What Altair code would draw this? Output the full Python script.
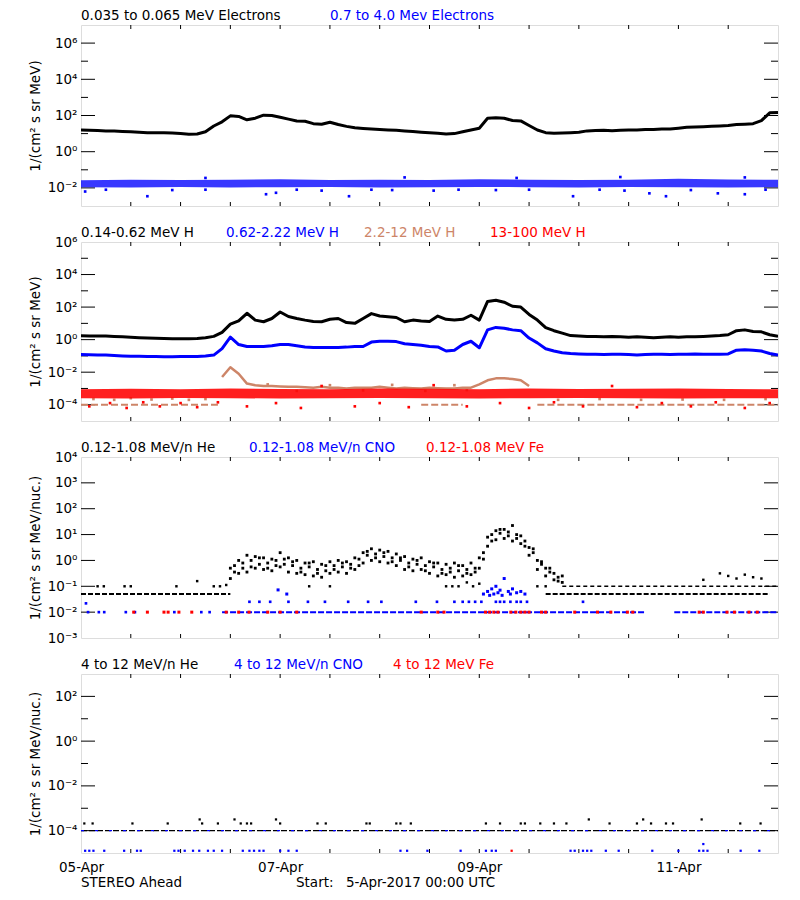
import altair as alt
import pandas as pd

W = 697
HS = [181, 179, 181, 179]
FONT = "DejaVu Sans"
FS = 13.5
BLACK, BLUE, BROWN, RED = "#000000", "#0000FF", "#CD8568", "#FF0000"

H2 = list(range(0, 169, 2))
H12 = list(range(0, 169, 12))
XTICK_H = list(range(12, 168, 12))
X_LABEL_H = [0, 48, 96, 144]
X_LABELS = ["05-Apr", "07-Apr", "09-Apr", "11-Apr"]

# ---------------- Panel 1 : electrons (log10 values) ----------------
e_low_black = [1.20, 1.18, 1.17, 1.15, 1.15, 1.12, 1.10, 1.08, 1.05, 1.05,
               1.05, 1.03, 1.00, 0.97, 0.98, 1.10, 1.42, 1.65, 1.98, 1.95,
               1.76, 1.85, 2.02, 2.00, 1.90, 1.80, 1.70, 1.68, 1.55, 1.52,
               1.63, 1.50, 1.40, 1.32, 1.28, 1.25, 1.22, 1.20, 1.18, 1.15,
               1.12, 1.08, 1.05, 1.02, 0.98, 1.00, 1.10, 1.20, 1.30, 1.85,
               1.88, 1.85, 1.72, 1.70, 1.45, 1.20, 1.05, 1.02, 1.03, 1.05,
               1.08, 1.15, 1.17, 1.18, 1.16, 1.18, 1.20, 1.20, 1.22, 1.22,
               1.25, 1.25, 1.30, 1.35, 1.37, 1.38, 1.40, 1.42, 1.45, 1.50,
               1.52, 1.55, 1.72, 2.15, 2.17]
e_high_blue_top = [-1.58, -1.55, -1.57, -1.55, -1.52, -1.56, -1.55, -1.57,
                   -1.52, -1.55, -1.56, -1.55, -1.50, -1.53, -1.55]
e_high_blue_bot = [-1.96, -1.98, -1.95, -1.98, -1.96, -1.95, -1.98, -1.96,
                   -1.95, -1.96, -1.98, -1.95, -1.96, -1.98, -1.96]
e_blue_out_t = [1, 6, 16, 22, 30, 44.6, 47, 52, 58, 64.6, 70, 75, 85, 91, 100,
                108, 118.6, 125, 131, 137, 141, 147, 153.5, 160, 165]
e_blue_out_v = [-2.2, -2.1, -2.46, -2.12, -2.1, -2.35, -2.27, -2.1, -2.15, -2.46,
                -2.1, -2.12, -2.15, -2.1, -2.12, -2.1, -2.46, -2.1, -2.15, -2.3,
                -2.46, -2.12, -2.3, -2.35, -2.1]
e_blue_up_t = [30, 78, 105, 130, 160]
e_blue_up_v = [-1.45, -1.42, -1.45, -1.40, -1.42]

# ---------------- Panel 2 : protons ----------------
h_low_black = [0.24, 0.23, 0.22, 0.22, 0.20, 0.18, 0.15, 0.12, 0.10, 0.08,
               0.07, 0.06, 0.06, 0.05, 0.07, 0.12, 0.20, 0.45, 0.95, 1.15,
               1.62, 1.20, 1.10, 1.30, 1.70, 1.42, 1.30, 1.20, 1.12, 1.10,
               1.25, 1.30, 1.05, 1.00, 1.30, 1.60, 1.45, 1.40, 1.36, 1.10,
               1.20, 1.15, 1.12, 1.45, 1.25, 1.20, 1.25, 1.50, 1.20, 2.35,
               2.42, 2.30, 2.05, 2.00, 1.55, 1.20, 0.74, 0.55, 0.40, 0.25,
               0.22, 0.20, 0.20, 0.18, 0.20, 0.18, 0.15, 0.17, 0.15, 0.12,
               0.15, 0.17, 0.15, 0.17, 0.18, 0.20, 0.22, 0.25, 0.30, 0.55,
               0.60, 0.50, 0.48, 0.30, 0.20]
h_mid_blue = [-0.92, -0.93, -0.95, -0.95, -0.98, -1.00, -1.02, -1.02, -1.03, -1.03,
              -1.05, -1.05, -1.04, -1.03, -1.03, -1.00, -0.95, -0.55, 0.15, -0.30,
              -0.42, -0.42, -0.42, -0.38, -0.30, -0.30, -0.38, -0.45, -0.48, -0.48,
              -0.48, -0.48, -0.46, -0.42, -0.42, -0.15, -0.10, -0.10, -0.12, -0.25,
              -0.30, -0.35, -0.42, -0.45, -0.70, -0.65, -0.30, -0.10, -0.50, 0.60,
              0.75, 0.70, 0.60, 0.55, 0.10, -0.20, -0.56, -0.70, -0.80, -0.85,
              -0.88, -0.90, -0.90, -0.92, -0.90, -0.90, -0.92, -0.95, -0.92, -0.90,
              -0.90, -0.92, -0.90, -0.90, -0.88, -0.90, -0.90, -0.90, -0.88, -0.65,
              -0.62, -0.65, -0.70, -0.85, -0.95]
h_brown_t = list(range(34, 109, 2))
h_brown_v = [-2.3, -1.7, -2.1, -2.7, -2.8, -2.85, -2.85, -2.88, -2.9, -2.9,
             -2.92, -2.95, -2.9, -2.95, -2.95, -3.0, -2.95, -2.95, -2.95, -2.9,
             -2.95, -3.0, -2.95, -2.98, -3.0, -2.95, -2.98, -3.0, -3.0, -2.95,
             -2.95, -2.75, -2.5, -2.38, -2.38, -2.42, -2.5, -2.85]
h_brown_base_start = [0, 82, 110]
h_brown_base_end = [33, 92, 168]
h_brown_base_level = -4.0
h_brown_sc_t = [3, 8, 12, 17, 22, 26, 30, 45, 52, 60, 68, 75, 83, 90, 93,
                115, 125, 135, 145, 155, 165]
h_brown_sc_v = [-3.65, -3.7, -3.6, -3.68, -3.62, -3.7, -3.65, -2.75, -3.15, -2.8,
                -3.12, -2.78, -3.15, -2.8, -3.1, -3.7, -3.65, -3.7, -3.68, -3.7, -3.65]
h_red_top = [-3.05, -3.02, -3.05, -3.00, -3.03, -3.05, -3.00, -3.02,
             -3.05, -3.00, -3.03, -3.02, -3.00, -3.03, -3.05]
h_red_bot = [-3.60, -3.62, -3.58, -3.60, -3.62, -3.60, -3.58, -3.60,
             -3.62, -3.60, -3.58, -3.60, -3.62, -3.60, -3.60]
h_red_out_t = [2, 7, 11, 15, 19, 24, 28, 33, 40, 47, 53, 58, 66, 72, 79, 85, 93,
               101, 108, 114, 121, 128, 134, 140, 147, 153, 160, 166]
h_red_out_v = [-4.1, -3.9, -4.2, -3.85, -4.1, -3.9, -4.15, -3.85, -4.1, -3.9,
               -4.2, -2.85, -4.1, -3.9, -4.15, -2.8, -4.1, -3.9, -4.2, -3.85,
               -4.1, -2.85, -4.15, -3.9, -4.1, -3.85, -4.2, -3.9]

# ---------------- Panel 3 : 0.12-1.08 MeV/n ions ----------------
he_t_even = list(range(36, 117, 2))
he_hi = [-0.3, 0.0, 0.2, 0.15, 0.1, 0.05, 0.3, 0.1, 0.0, -0.1,
         -0.05, -0.15, -0.05, 0.0, -0.05, 0.1, 0.3, 0.45, 0.4, 0.35,
         0.25, 0.15, 0.05, 0.1, -0.05, -0.1, -0.15, -0.1, -0.2, -0.1,
         0.1, 0.9, 1.15, 1.2, 1.35, 0.95, 0.5, 0.0, -0.3, -0.5, -0.6]
he_lo = [-0.7, -0.5, -0.45, -0.3, -0.35, -0.4, -0.25, -0.45, -0.5, -0.55,
         -0.6, -0.65, -0.5, -0.45, -0.5, -0.35, -0.1, 0.0, -0.05, -0.1,
         -0.2, -0.35, -0.4, -0.35, -0.5, -0.6, -0.55, -0.65, -0.6, -0.55,
         -0.3, 0.55, 0.8, 0.85, 0.75, 0.65, 0.2, -0.35, -0.6, -0.75, -0.85]
he_t_odd = list(range(37, 116, 2))
he_mid = [-0.2, -0.1, 0.0, -0.15, -0.1, -0.2, 0.05, -0.2, -0.3, -0.25,
          -0.35, -0.4, -0.2, -0.25, -0.15, 0.05, 0.2, 0.25, 0.15, 0.1,
          0.0, -0.1, -0.15, -0.2, -0.25, -0.35, -0.3, -0.4, -0.35, -0.3,
          0.3, 1.0, 1.05, 1.1, 0.85, 0.75, 0.3, -0.15, -0.45, -0.65]
he_mid2 = [-0.45, -0.3, -0.25, 0.1, -0.3, 0.0, -0.15, -0.05, -0.45, -0.1,
           -0.5, -0.2, -0.35, -0.1, -0.3, -0.2, 0.35, 0.1, 0.3, -0.05,
           0.1, -0.25, 0.0, -0.4, -0.1, -0.5, -0.45, -0.2, -0.5, -0.45,
           0.05, 0.75, 1.2, 0.95, 1.0, 0.55, 0.45, -0.05, -0.3, -0.8]
he_base_start = [0, 112]
he_base_end = [36, 166]
he_base_level = -1.3
he_upper_start = [116]
he_upper_end = [168]
he_upper_level = -1.0
he_sparse_t = [4, 5.5, 10.5, 12, 23, 28, 32, 33.5, 35, 55, 60, 88, 89.5, 91, 93,
               94.5, 96, 110, 112, 150, 154, 156, 158, 160, 162, 164]
he_sparse_v = [-1.0, -1.0, -1.0, -1.0, -1.0, -0.8, -1.0, -1.0, -0.95, -1.0,
               -1.0, -1.0, -1.0, -1.0, -0.85, -1.0, -0.9, -1.0, -1.0, -0.75,
               -0.5, -0.6, -0.7, -0.55, -0.65, -0.7]
cno_line_start = [34, 143]
cno_line_end = [136, 168]
cno_line_level = -2.0
cno_pre_t = [1.2, 1.7, 4.3, 5.6, 10.8, 13, 22.5, 29, 31]
cno_pre_v = [-1.66, -2.0, -2.0, -2.0, -2.0, -2.0, -2.0, -2.0, -2.0]
cno_mid_t = [40.6, 43, 45.6, 50, 54.7, 58.8, 64.4, 69.2, 72.4, 80.7, 85.8, 90,
             92, 93.5, 95, 96.5, 100, 101, 102, 103.5, 105, 106, 107.5, 121]
cno_mid_level = -1.6
cno_evt_t = [47.5, 49.6, 97, 98, 98.5, 99, 99.5, 100, 100.5, 101, 101.5, 102,
             103, 103.5, 104, 105, 106, 107]
cno_evt_v = [-1.14, -1.3, -1.3, -1.2, -1.35, -1.1, -1.3, -1.0, -1.25, -1.15,
             -1.35, -0.7, -1.2, -1.3, -1.1, -1.25, -1.2, -1.3]
fe_t = [12.7, 16, 20, 21, 23.6, 26.7, 35, 38, 40.5, 45, 48, 52, 82, 86, 87.5,
        97.5, 98.5, 99.5, 100.5, 103.6, 104.8, 106, 107, 108, 111, 112, 119,
        124.5, 127.7, 131.7, 133, 149, 150, 155.7, 157.5, 161, 163]
fe_level = -2.0

# ---------------- Panel 4 : 4-12 MeV/n ions ----------------
p4_line_level = -4.0
he4_t = [0.8, 2.8, 12.4, 20.9, 28.6, 29.2, 33, 37, 38.5, 40, 41, 47, 48, 57, 59,
         68.8, 69.6, 76, 77, 79.5, 97.6, 101, 106, 107, 110.7, 114, 117, 122.4,
         127.4, 134, 135.5, 137.4, 141, 142.7, 149.6, 158.9, 163.8]
he4_v = [-3.68, -3.68, -3.68, -3.68, -3.5, -3.68, -3.68, -3.5, -3.68, -3.68,
         -3.68, -3.5, -3.68, -3.68, -3.68, -3.68, -3.68, -3.68, -3.68, -3.68,
         -3.68, -3.68, -3.68, -3.68, -3.68, -3.68, -3.68, -3.5, -3.68, -3.68,
         -3.5, -3.68, -3.68, -3.68, -3.5, -3.68, -3.68]
cno4_t = [1, 2, 3, 5.6, 10.4, 13.5, 14.4, 22.5, 23.5, 25, 27, 28.5, 30.6, 32, 34,
          39, 40.6, 41.7, 43, 44, 48, 50, 52, 77, 78.6, 83.5, 91.5, 97.6, 99, 100,
          118, 119, 121, 122, 123, 126.5, 129.6, 137.7, 144, 149, 150, 151, 159,
          163.5, 150]
cno4_v = [-4.9] * 44 + [-4.6]
fe4_t = [103.8]
fe4_v = [-4.9]

# ---------------- text ----------------
TITLES = [
    [("0.035 to 0.065 MeV Electrons", BLACK), ("0.7 to 4.0 Mev Electrons", BLUE)],
    [("0.14-0.62 MeV H", BLACK), ("0.62-2.22 MeV H", BLUE), ("2.2-12 MeV H", BROWN),
     ("13-100 MeV H", RED)],
    [("0.12-1.08 MeV/n He", BLACK), ("0.12-1.08 MeV/n CNO", BLUE), ("0.12-1.08 MeV Fe", RED)],
    [("4 to 12 MeV/n He", BLACK), ("4 to 12 MeV/n CNO", BLUE), ("4 to 12 MeV Fe", RED)],
]
TITLE_X = [[0, 249], [0, 145, 283, 409], [0, 168, 345], [0, 153, 312]]
YTITLES = ["1/(cm² s sr MeV)", "1/(cm² s sr MeV)",
           "1/(cm² s sr MeV/nuc.)", "1/(cm² s sr MeV/nuc.)"]
FOOT = [("STEREO Ahead", 0), ("Start:", 215), ("5-Apr-2017 00:00 UTC", 265)]

# ---------------- helpers ----------------
SUP = {'-': '⁻', '0': '⁰', '1': '¹', '2': '²', '3': '³', '4': '⁴',
       '5': '⁵', '6': '⁶', '7': '⁷', '8': '⁸', '9': '⁹'}
_e = "'' + round(log(datum.value) / LN10)"
for k, s in SUP.items():
    _e = "replace(%s, '%s', '%s')" % (_e, k, s)
Y_LABEL_EXPR = "'10' + " + _e
X_LABEL_EXPR = "[" + ",".join("'%s'" % s for s in X_LABELS) + "][round(datum.value / 48)]"


def pts(t, logv):
    return pd.DataFrame({'t': t, 'v': [10 ** x for x in logv]})


def band(t, hi, lo):
    return pd.DataFrame({'t': t, 'hi': [10 ** x for x in hi], 'lo': [10 ** x for x in lo]})


def segs(starts, ends, level):
    rows = []
    for i, (a, b) in enumerate(zip(starts, ends)):
        rows.append({'t': a, 'v': 10 ** level, 'seg': i})
        rows.append({'t': b, 'v': 10 ** level, 'seg': i})
    return pd.DataFrame(rows)


class Panel:
    def __init__(self, idx, ydom, label_e, long_e, short_e, show_x=False):
        self.h = HS[idx]
        self.idx = idx
        self.xsc = alt.Scale(domain=[0, 168], nice=False, zero=False)
        self.ysc = alt.Scale(type='log', domain=[10 ** ydom[0], 10 ** ydom[1]], nice=False)
        self.yax = alt.Axis(values=[10 ** e for e in label_e], labelExpr=Y_LABEL_EXPR,
                            ticks=False, domain=False, grid=False, labelPadding=4,
                            labelFontSize=FS, labelFont=FONT, labelColor='black',
                            labelOverlap=False, labelFlush=False,
                            title=YTITLES[idx], titleX=-46, titleY=self.h / 2,
                            titleAngle=270, titleAlign='center', titleBaseline='middle',
                            titleFontSize=FS, titleFont=FONT, titleFontWeight='normal',
                            titleColor='black')
        if show_x:
            self.xax = alt.Axis(values=X_LABEL_H, labelExpr=X_LABEL_EXPR, ticks=False,
                                domain=False, grid=False, labelPadding=7, labelFontSize=FS,
                                labelFont=FONT, labelColor='black', labelFlush=False,
                                labelOverlap=False, title=None)
        else:
            self.xax = None
        self.layers = []
        # inward ticks
        for vals, ln in ((long_e, 14), (short_e, 7)):
            if not vals:
                continue
            df = pd.DataFrame({'v': [10 ** e for e in vals]})
            self.layers.append(alt.Chart(df).mark_rule(color='black', strokeWidth=1).encode(
                y=self.Y(), x=alt.value(0), x2=alt.value(ln)))
            self.layers.append(alt.Chart(df).mark_rule(color='black', strokeWidth=1).encode(
                y=self.Y(), x=alt.value(W - ln), x2=alt.value(W)))
        tdf = pd.DataFrame({'t': XTICK_H})
        self.layers.append(alt.Chart(tdf).mark_rule(color='black', strokeWidth=1).encode(
            x=self.X(), y=alt.value(0), y2=alt.value(4)))
        self.layers.append(alt.Chart(tdf).mark_rule(color='black', strokeWidth=1).encode(
            x=self.X(), y=alt.value(self.h - 4), y2=alt.value(self.h)))

    def X(self, f='t'):
        return alt.X(f + ':Q', scale=self.xsc, axis=self.xax)

    def Y(self, f='v'):
        return alt.Y(f + ':Q', scale=self.ysc, axis=self.yax)

    def line(self, df, color, width, dash=None):
        kw = dict(color=color, strokeWidth=width, clip=True, strokeJoin='round')
        if dash:
            kw['strokeDash'] = dash
        enc = dict(x=self.X(), y=self.Y())
        if 'seg' in df.columns:
            enc['detail'] = 'seg:N'
        self.layers.append(alt.Chart(df).mark_line(**kw).encode(**enc))

    def points(self, df, color, size=7):
        self.layers.append(alt.Chart(df).mark_square(color=color, size=size, opacity=1,
                                                     clip=True).encode(x=self.X(), y=self.Y()))

    def area(self, df, color, opacity):
        self.layers.append(alt.Chart(df).mark_area(color=color, opacity=opacity, clip=True).encode(
            x=self.X(), y=self.Y('hi'), y2=alt.Y2('lo:Q')))

    def chart(self):
        for (txt, col), xo in zip(TITLES[self.idx], TITLE_X[self.idx]):
            self.layers.append(alt.Chart(pd.DataFrame({'label': [txt]})).mark_text(
                align='left', baseline='alphabetic', font=FONT, fontSize=FS, color=col).encode(
                text='label:N', x=alt.value(xo), y=alt.value(-5)))
        if self.idx == 3:
            for txt, xo in FOOT:
                self.layers.append(alt.Chart(pd.DataFrame({'label': [txt]})).mark_text(
                    align='left', baseline='alphabetic', font=FONT, fontSize=FS,
                    color='black').encode(text='label:N', x=alt.value(xo),
                                          y=alt.value(self.h + 34)))
        return alt.layer(*self.layers).properties(width=W, height=self.h)


# Panel 1
p1 = Panel(0, (-3, 7), [-2, 0, 2, 4, 6], [-2, 0, 2, 4, 6], [-1, 1, 3, 5])
p1.line(pts(H2, e_low_black), BLACK, 3)
p1.area(band(H12, e_high_blue_top, e_high_blue_bot), BLUE, 0.78)
p1.points(pts(e_blue_out_t, e_blue_out_v), BLUE)
p1.points(pts(e_blue_up_t, e_blue_up_v), BLUE)

# Panel 2
p2 = Panel(1, (-5, 6), [-4, -2, 0, 2, 4, 6], [-4, -2, 0, 2, 4], [-3, -1, 1, 3, 5])
p2.line(pts(H2, h_low_black), BLACK, 3)
p2.line(pts(H2, h_mid_blue), BLUE, 3)
p2.line(segs(h_brown_base_start, h_brown_base_end, h_brown_base_level), BROWN, 2, [7, 3])
p2.line(pts(h_brown_t, h_brown_v), BROWN, 2.5)
p2.points(pts(h_brown_sc_t, h_brown_sc_v), BROWN)
p2.area(band(H12, h_red_top, h_red_bot), RED, 0.88)
p2.points(pts(h_red_out_t, h_red_out_v), RED)

# Panel 3
p3 = Panel(2, (-3, 4), [-3, -2, -1, 0, 1, 2, 3, 4], [-2, -1, 0, 1, 2, 3], [])
p3.line(segs(he_base_start, he_base_end, he_base_level), BLACK, 2, [5, 2])
p3.line(segs(he_upper_start, he_upper_end, he_upper_level), BLACK, 1.5, [4, 3])
p3.points(pts(he_t_even, he_hi), BLACK, 8)
p3.points(pts(he_t_even, he_lo), BLACK, 8)
p3.points(pts(he_t_odd, he_mid), BLACK, 8)
p3.points(pts(he_t_odd, he_mid2), BLACK, 8)
p3.points(pts(he_sparse_t, he_sparse_v), BLACK, 6)
p3.line(segs(cno_line_start, cno_line_end, cno_line_level), BLUE, 2, [6, 2])
p3.points(pts(cno_pre_t, cno_pre_v), BLUE, 7)
p3.points(pts(cno_mid_t, [cno_mid_level] * len(cno_mid_t)), BLUE, 7)
p3.points(pts(cno_evt_t, cno_evt_v), BLUE, 9)
p3.points(pts(fe_t, [fe_level] * len(fe_t)), RED, 9)

# Panel 4
p4 = Panel(3, (-5, 3), [-4, -2, 0, 2], [-4, -2, 0, 2], [-3, -1, 1], show_x=True)
p4.line(segs([0], [168], p4_line_level), BLACK, 1.2, [6, 2])
p4.line(segs([0], [168], p4_line_level), BLUE, 1.2, [3, 11])
p4.points(pts(he4_t, he4_v), BLACK, 5)
p4.points(pts(cno4_t, cno4_v), BLUE, 5)
p4.points(pts(fe4_t, fe4_v), RED, 5)

chart = alt.vconcat(p1.chart(), p2.chart(), p3.chart(), p4.chart(),
                    spacing=36, bounds='flush').properties(
    padding={'left': 19, 'top': 0, 'right': 5, 'bottom': 5}
).configure_view(stroke='black', strokeWidth=1).configure(font=FONT, background='white')

chart.save("out.html", embed_options={"renderer": "svg", "actions": False})
